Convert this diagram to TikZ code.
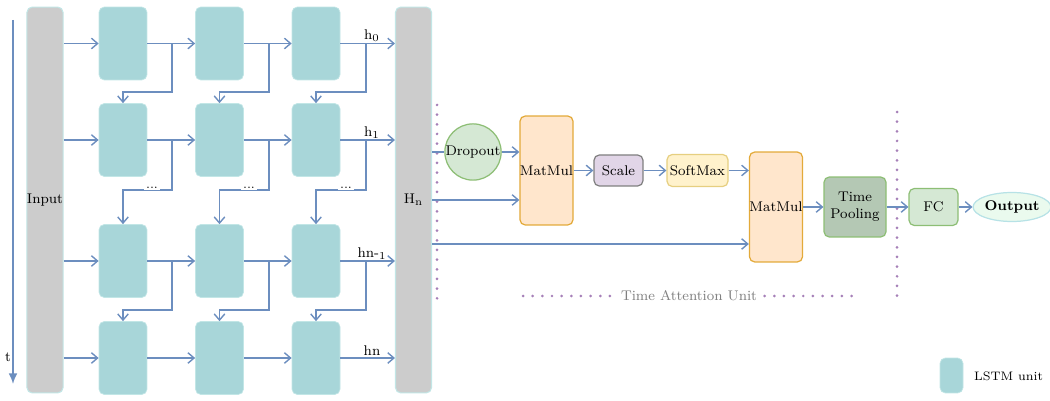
\documentclass[tikz,border=0pt]{standalone}
\usetikzlibrary{arrows.meta,shapes.geometric}
\definecolor{linecol}{HTML}{6C8EBF}
\definecolor{lstmcol}{HTML}{A8D6D9}
\definecolor{lstmline}{HTML}{C2E6E6}
\definecolor{barcol}{HTML}{CCCCCC}
\definecolor{mmfill}{HTML}{FFE6CC}
\definecolor{mmline}{HTML}{E3AA3A}
\definecolor{scfill}{HTML}{E1D5E7}
\definecolor{sffill}{HTML}{FFF2CC}
\definecolor{sfline}{HTML}{E6CF80}
\definecolor{grfill}{HTML}{D5E8D4}
\definecolor{grline}{HTML}{8DBE75}
\definecolor{tpfill}{HTML}{B4C8B4}
\definecolor{outfill}{HTML}{EAFAEE}
\definecolor{outline}{HTML}{B7E2E6}
\definecolor{dotcol}{HTML}{A680B8}
\tikzset{
	arr/.style={draw=linecol, line width=0.8pt, -{Straight Barb[length=3.5pt,width=6pt]}},
	plainline/.style={draw=linecol, line width=0.8pt},
	lstm/.style={fill=lstmcol, draw=lstmline, line width=0.4pt, rounded corners=3pt, minimum width=0.96cm, minimum height=1.46cm, inner sep=0pt},
	bar/.style={fill=barcol, draw=lstmline, line width=0.6pt, rounded corners=3pt, minimum width=0.72cm, minimum height=7.72cm, inner sep=0pt},
	opbox/.style={rounded corners=3pt, line width=0.7pt, inner sep=0pt, align=center},
	purpledots/.style={draw=dotcol, line width=1.7pt, line cap=round, dash pattern=on 0pt off 5.5pt},
}
\begin{document}
\begin{tikzpicture}[x=0.02cm,y=-0.02cm,font=\footnotesize]
	\useasboundingbox (0,0) rectangle (1050,401);
	\coordinate (ttop) at (13,20);
	\coordinate (tbot) at (13,384);
	\draw[draw=linecol, line width=1pt, -{Latex[length=6pt,width=5pt]}] (ttop) -- (tbot);
	\node (tlabel) at (8,357) {t};
	\node[bar] (input) at (45,200) {Input};
	\node[bar] (hbar) at (413.5,200) {H\textsubscript{n}};
	\foreach \r/\y in {1/43.5,2/140,3/261,4/358}
		\foreach \c/\x in {1/123,2/219.5,3/316}
			\node[lstm] (c-\r-\c) at (\x,\y) {};
	\foreach \r in {1,...,4}{
		\draw[arr] (input.east |- c-\r-1) -- (c-\r-1);
		\draw[arr] (c-\r-1) -- (c-\r-2);
		\draw[arr] (c-\r-2) -- (c-\r-3);
		\draw[arr] (c-\r-3) -- (hbar.west |- c-\r-3);
	}
	\foreach \r/\n/\yt in {1/2/92,2/3/190,3/4/310}
		\foreach \c/\xt in {1/172,2/269,3/366}{
			\coordinate (t-\r-\c) at (\xt,\yt);
			\draw[arr] (t-\r-\c |- c-\r-\c) -- (t-\r-\c) -| (c-\n-\c.north);
		}
	\foreach \c/\xd in {1/152,2/249,3/346}
		\node[fill=white, inner sep=1pt, font=\scriptsize] (dots-\c) at (\xd,188) {...};
	\node (h-1) at (372,36) {h\textsubscript{0}};
	\node (h-2) at (372,133) {h\textsubscript{1}};
	\node (h-3) at (372,254) {hn-\textsubscript{1}};
	\node (h-4) at (372,351) {hn};
	\draw[purpledots] (437,105) -- (437,300);
	\draw[purpledots] (897,112) -- (897,300);
	\draw[purpledots] (523,296) -- (855,296);
	\node[fill=white, text=gray, inner sep=2pt] (tau) at (689,296) {Time Attention Unit};
	\node[circle, fill=grfill, draw=grline, line width=0.7pt, minimum size=1cm, inner sep=0pt] (drop) at (473,152) {Dropout};
	\node[opbox, fill=mmfill, draw=mmline, minimum width=0.98cm, minimum height=2.18cm] (mm1) at (546.5,170.5) {MatMul};
	\node[opbox, fill=scfill, draw=gray, minimum width=0.98cm, minimum height=0.62cm] (scale) at (618.5,170.5) {Scale};
	\node[opbox, fill=sffill, draw=sfline, minimum width=1.22cm, minimum height=0.64cm] (soft) at (697.5,170.5) {SoftMax};
	\node[opbox, fill=mmfill, draw=mmline, minimum width=0.96cm, minimum height=2.2cm] (mm2) at (776,207) {MatMul};
	\node[opbox, fill=tpfill, draw=grline, minimum width=1.24cm, minimum height=1.2cm] (pool) at (855,207) {Time\\Pooling};
	\node[opbox, fill=grfill, draw=grline, minimum width=0.98cm, minimum height=0.74cm] (fc) at (933.5,207) {FC};
	\node[ellipse, fill=outfill, draw=outline, line width=0.7pt, minimum width=1.2cm, minimum height=0.58cm, inner sep=0pt, font=\footnotesize\bfseries] (out) at (1012,207) {Output};
	\draw[plainline] (hbar.east |- drop) -- (drop);
	\draw[arr] (drop) -- (mm1.west |- drop);
	\draw[arr] (hbar.east |- 0,200) -- (mm1.west |- 0,200);
	\draw[arr] (hbar.east |- 0,244) -- (mm2.west |- 0,244);
	\draw[arr] (mm1) -- (scale);
	\draw[arr] (scale) -- (soft);
	\draw[arr] (soft) -- (mm2.west |- soft);
	\draw[arr] (mm2) -- (pool);
	\draw[arr] (pool) -- (fc);
	\draw[arr] (fc) -- (out);
	\node[lstm, minimum width=0.46cm, minimum height=0.7cm] (key) at (951.5,375.5) {};
	\node[anchor=west, font=\scriptsize] (keytext) at (968,376) {LSTM unit};
\end{tikzpicture}
\end{document}
